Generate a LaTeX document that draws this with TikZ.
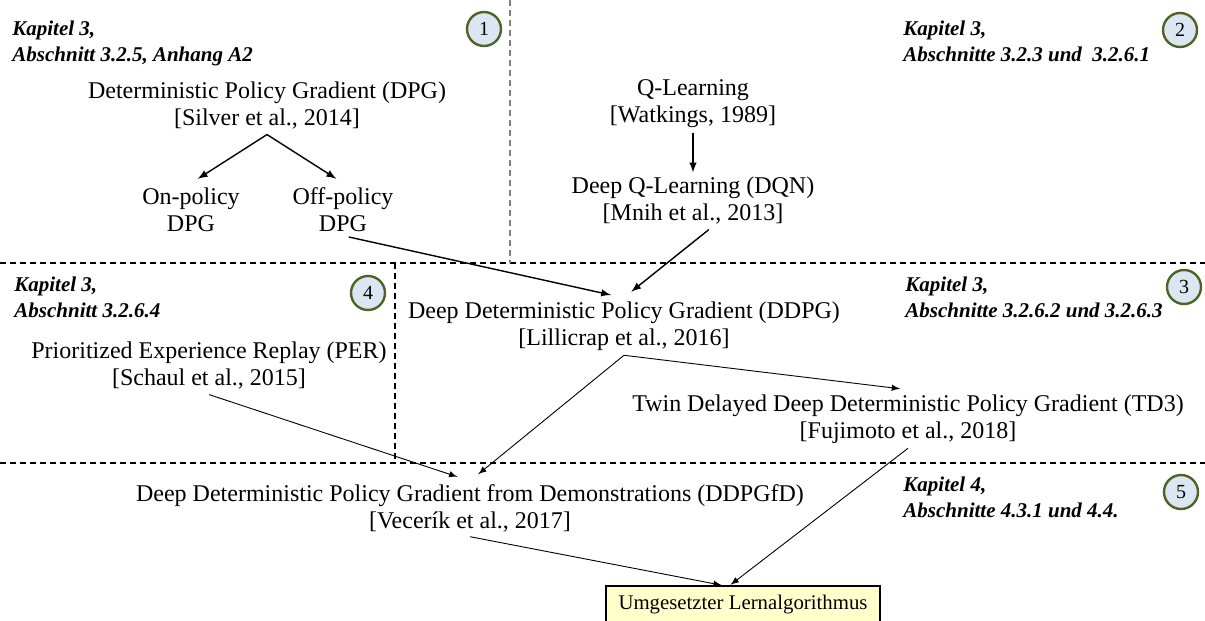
\documentclass[tikz,border=0pt]{standalone}
\usepackage{fontspec}
\setmainfont{Liberation Serif}
\usepackage{xcolor}
\usepackage{tikz}
\usetikzlibrary{arrows}
\usetikzlibrary{positioning}

\definecolor{numfill}{HTML}{DCE6F2}
\definecolor{numline}{HTML}{4F6228}
\definecolor{resultfill}{HTML}{FFFFCC}

\begin{document}
\begin{tikzpicture}
[
	x = 0.5pt, y = -0.5pt,
	algo/.style	= {align = center, inner sep = 2.25pt, font = \fontsize{12}{13.5}\selectfont},
	source/.style	= {anchor = north west, align = left, inner sep = 0pt, font = \fontsize{10.5}{13}\selectfont\bfseries\itshape},
	num/.style	= {circle, draw = numline, fill = numfill, line width = 1.2pt, minimum size = 17pt, inner sep = 0pt, font = \fontsize{10}{12}\selectfont},
	result/.style	= {draw = black, fill = resultfill, line width = 0.6pt, minimum width = 137pt, minimum height = 19pt, inner sep = 0pt, font = \fontsize{10.4}{12}\selectfont},
	divider/.style	= {dash pattern = on 3pt off 2pt, line width = 0.6pt},
	link/.style	= {-latex, line width = 0.7pt, shorten > = 4pt},
	lightlink/.style = {link, line width = 0.45pt},
]

	\useasboundingbox (0, 0) rectangle (1205, 621);

	\draw [divider] (0, 263) -- (1205, 263);
	\draw [divider] (0, 463) -- (1205, 463);
	\draw [divider, gray] (510, 0) -- (510, 263);
	\draw [divider] (395, 263) -- (395, 463);

	\node (src1) [source] at (12, 21) {Kapitel 3,\\ Abschnitt 3.2.5, Anhang A2};
	\node (src2) [source] at (903, 21) {Kapitel 3,\\ Abschnitte 3.2.3 und~ 3.2.6.1};
	\node (src3) [source] at (905, 277) {Kapitel 3,\\ Abschnitte 3.2.6.2 und 3.2.6.3};
	\node (src4) [source] at (14, 277) {Kapitel 3,\\ Abschnitt 3.2.6.4};
	\node (src5) [source] at (903, 477) {Kapitel 4,\\ Abschnitte 4.3.1 und 4.4.};
	%
	\node (num1) [num] at (484, 29) {1};
	\node (num2) [num] at (1180, 30) {2};
	\node (num3) [num] at (1184, 287) {3};
	\node (num4) [num] at (368, 293) {4};
	\node (num5) [num] at (1181, 492) {5};

	\node (dpg) [algo] at (267, 106) {Deterministic Policy Gradient (DPG)\\{}[Silver et al., 2014]};
	\node (onpol) [algo] at (191, 210) {On-policy\\ DPG};
	\node (offpol) [algo] at (343, 210) {Off-policy\\ DPG};
	%
	\node (qlearn) [algo] at (693, 104) {Q-Learning\\{}[Watkings, 1989]};
	\node (dqn) [algo] at (693, 201) {Deep Q-Learning (DQN)\\{}[Mnih et al., 2013]};
	%
	\node (ddpg) [algo] at (624, 326) {Deep Deterministic Policy Gradient (DDPG)\\{}[Lillicrap et al., 2016]};
	\node (per) [algo] at (209, 366) {Prioritized Experience Replay (PER)\\{}[Schaul et al., 2015]};
	\node (td3) [algo] at (908, 419) {Twin Delayed Deep Deterministic Policy Gradient (TD3)\\{}[Fujimoto et al., 2018]};
	%
	\node (ddpgfd) [algo] at (470, 508) {Deep Deterministic Policy Gradient from Demonstrations (DDPGfD)\\{}[Vecerík et al., 2017]};
	\node (final) [result] at (743, 605) {Umgesetzter Lernalgorithmus};

	\draw [link] (dpg.south) -- (onpol.north);
	\draw [link] (dpg.south) -- (offpol.north);
	\draw [link, shorten > = 0pt] (qlearn.south) -- (dqn.north);

	\draw [link] (offpol.-78) -- (ddpg.100);
	\draw [link] (dqn.-61) -- (ddpg.88);

	\draw [lightlink] (ddpg.south) -- (td3.north);
	\draw [lightlink] (ddpg.south) -- (ddpgfd.86);
	\draw [lightlink] (per.south) -- (ddpgfd.100);

	\draw [lightlink, shorten > = 0.5pt] (ddpgfd.south) -- (final.136);
	\draw [lightlink, shorten > = 0.5pt] (td3.south) -- (final.124);

\end{tikzpicture}
\end{document}
